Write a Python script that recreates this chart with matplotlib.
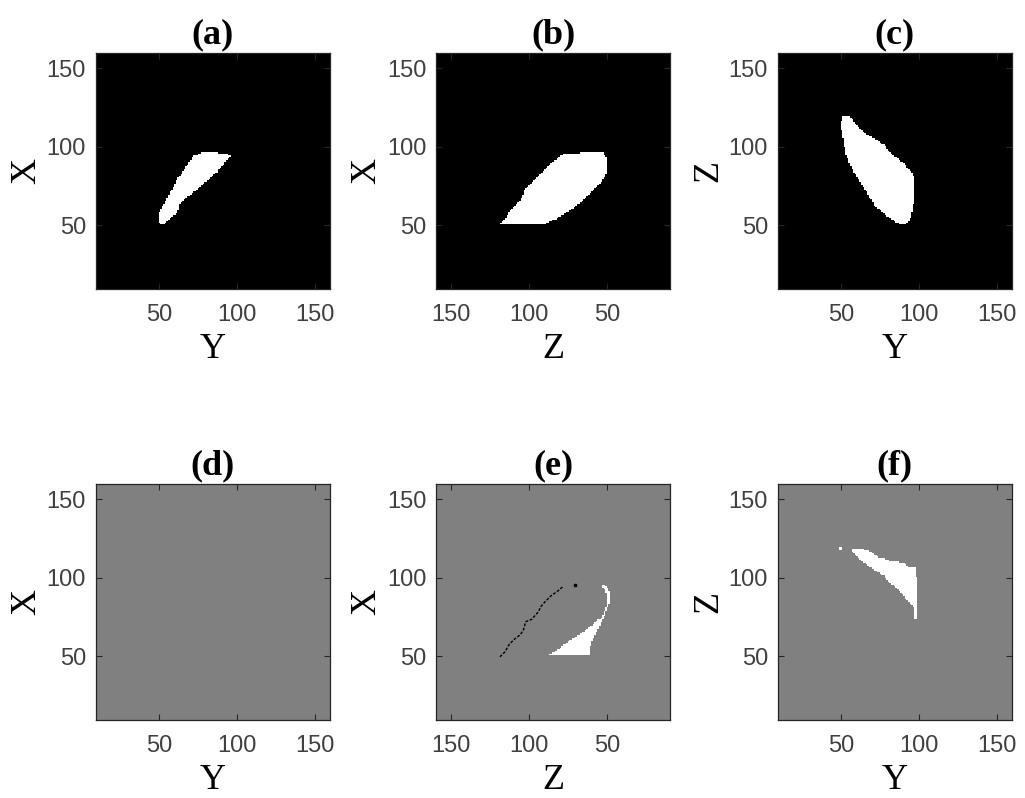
#!/usr/bin/env python3
# -*- coding=utf-8 -*-
import numpy as np
from matplotlib import pyplot as plt
from matplotlib.path import Path

# mask outlines (horizontal coord, vertical coord)
a_h = [71.0, 76.4, 87.1, 95.6, 87.1, 78.5, 73.8, 67.8, 62.5, 61.8, 55.0, 51.8, 49.6, 49.2, 51.8, 57.1, 62.5, 67.8]
a_v = [93.6, 96.1, 96.1, 94.7, 84.0, 76.7, 72.4, 68.1, 62.9, 58.6, 52.3, 50.2, 52.3, 57.6, 61.8, 71.3, 80.9, 88.3]

b_h = [118.5, 89.6, 82.1, 73.6, 65.1, 58.7, 53.3, 50.1, 50.1, 53.3, 77.9, 86.4, 94.9, 102.4, 105.7, 112.1, 115.3]
b_v = [50.8, 50.8, 54.4, 59.7, 66.0, 72.4, 78.8, 84.0, 92.6, 96.4, 95.7, 89.4, 80.9, 73.5, 66.0, 59.7, 54.4]

c_h = [50.5, 54.8, 60.1, 66.6, 71.9, 77.2, 81.5, 90.0, 96.4, 96.4, 94.3, 91.1, 86.8, 79.4, 70.8, 66.6, 61.2, 55.9, 52.6, 51.2, 49.4]
c_v = [119.4, 119.4, 113.7, 107.3, 104.8, 101.0, 95.7, 89.4, 81.3, 66.0, 54.4, 50.8, 50.8, 55.4, 62.9, 70.3, 78.8, 87.2, 95.7, 104.2, 113.7]

e_h = [88.5, 61.9, 60.8, 59.1, 55.5, 52.6, 50.1, 48.4, 48.4, 50.1, 52.6, 53.7, 51.5, 50.2, 50.2, 51.6, 54.4, 57.6, 65.1, 73.6, 82.1]
e_v = [50.2, 50.2, 58.2, 61.4, 68.8, 74.1, 81.5, 84.7, 90.0, 94.2, 95.7, 94.7, 92.4, 88.5, 84.7, 79.4, 74.1, 72.0, 65.6, 60.3, 54.1]

# thin black trace in (e)
e_line_h = [118.5, 115.3, 112.5, 108.7, 105.7, 103.5, 102.0, 98.2, 93.9, 92.4, 89.6, 85.3, 82.1, 78.3]
e_line_v = [49.7, 52.9, 57.7, 61.4, 63.5, 66.7, 72.0, 73.5, 78.3, 81.5, 84.7, 88.9, 91.0, 94.2]
e_dot = (70.4, 95.2)

f_h = [56.3, 63.3, 68.7, 74.0, 81.5, 90.0, 92.2, 97.5, 98.2, 98.2, 96.9, 96.9, 94.3, 91.1, 85.8, 79.4, 77.2, 73.0, 67.6, 61.2, 56.3]
f_v = [118.6, 118.6, 116.5, 112.9, 110.7, 109.5, 107.0, 106.5, 98.5, 73.0, 73.0, 80.5, 83.7, 86.8, 93.2, 97.4, 101.0, 103.8, 107.0, 112.3, 117.5]
f_spot_h = [48.5, 50.5, 50.5, 48.5]
f_spot_v = [117.0, 117.0, 119.5, 119.5]

titles = ['(a)', '(b)', '(c)', '(d)', '(e)', '(f)']
xlabels = ['Y', 'Z', 'Y', 'Y', 'Z', 'Y']
ylabels = ['X', 'X', 'Z', 'X', 'X', 'Z']

grid = np.arange(10, 160)
gx, gy = np.meshgrid(grid, grid)
pts = np.column_stack([gx.ravel(), gy.ravel()])


def mask(h, v):
    path = Path(np.column_stack([h, v]))
    return path.contains_points(pts).reshape(gx.shape)


def panel(bg, polys):
    img = np.full(gx.shape, bg)
    for h, v in polys:
        img[mask(h, v)] = 1.0
    return img


images = [
    panel(0.0, [(a_h, a_v)]),
    panel(0.0, [(b_h, b_v)]),
    panel(0.0, [(c_h, c_v)]),
    panel(0.5, []),
    panel(0.5, [(e_h, e_v)]),
    panel(0.5, [(f_h, f_v), (f_spot_h, f_spot_v)]),
]
reverse_x = [False, True, False, False, True, False]

fig = plt.figure(figsize=(10.25, 7.98), dpi=100)
lefts = [0.0934, 0.4254, 0.7587]
bottoms = [0.6378, 0.0977]
w, hgt = 0.2283, 0.2957

for i in range(6):
    ax = fig.add_axes([lefts[i % 3], bottoms[i // 3], w, hgt])
    ax.imshow(images[i], cmap='gray', vmin=0, vmax=1, origin='lower',
              extent=(9.5, 159.5, 9.5, 159.5), aspect='auto', interpolation='nearest')
    if i == 4:
        ax.plot(e_line_h, e_line_v, color='k', lw=1.0, ls=(0, (2, 1.2)))
        ax.plot([e_dot[0]], [e_dot[1]], 's', color='k', ms=1.5)
    if reverse_x[i]:
        ax.set_xlim(159.5, 9.5)
    else:
        ax.set_xlim(9.5, 159.5)
    ax.set_ylim(9.5, 159.5)
    ax.set_xticks([50, 100, 150])
    ax.set_yticks([50, 100, 150])
    ax.tick_params(direction='in', length=4, width=0.8, colors='#262626',
                   labelcolor='#404040', labelsize=17, top=True, right=True)
    ax.tick_params(axis='x', pad=11)
    ax.tick_params(axis='y', pad=7)
    for s in ax.spines.values():
        s.set_color('#262626')
        s.set_linewidth(0.9)
    ax.set_title(titles[i], fontfamily='Liberation Serif', fontweight='bold',
                 fontsize=26, pad=7)
    ax.set_xlabel(xlabels[i], fontfamily='Liberation Serif', fontsize=26, labelpad=5)
    ax.set_ylabel(ylabels[i], fontfamily='Liberation Serif', fontsize=26, labelpad=2.5)
    for lab in ax.get_xticklabels() + ax.get_yticklabels():
        lab.set_fontfamily('Liberation Sans')

plt.savefig('out.png', dpi=100)
